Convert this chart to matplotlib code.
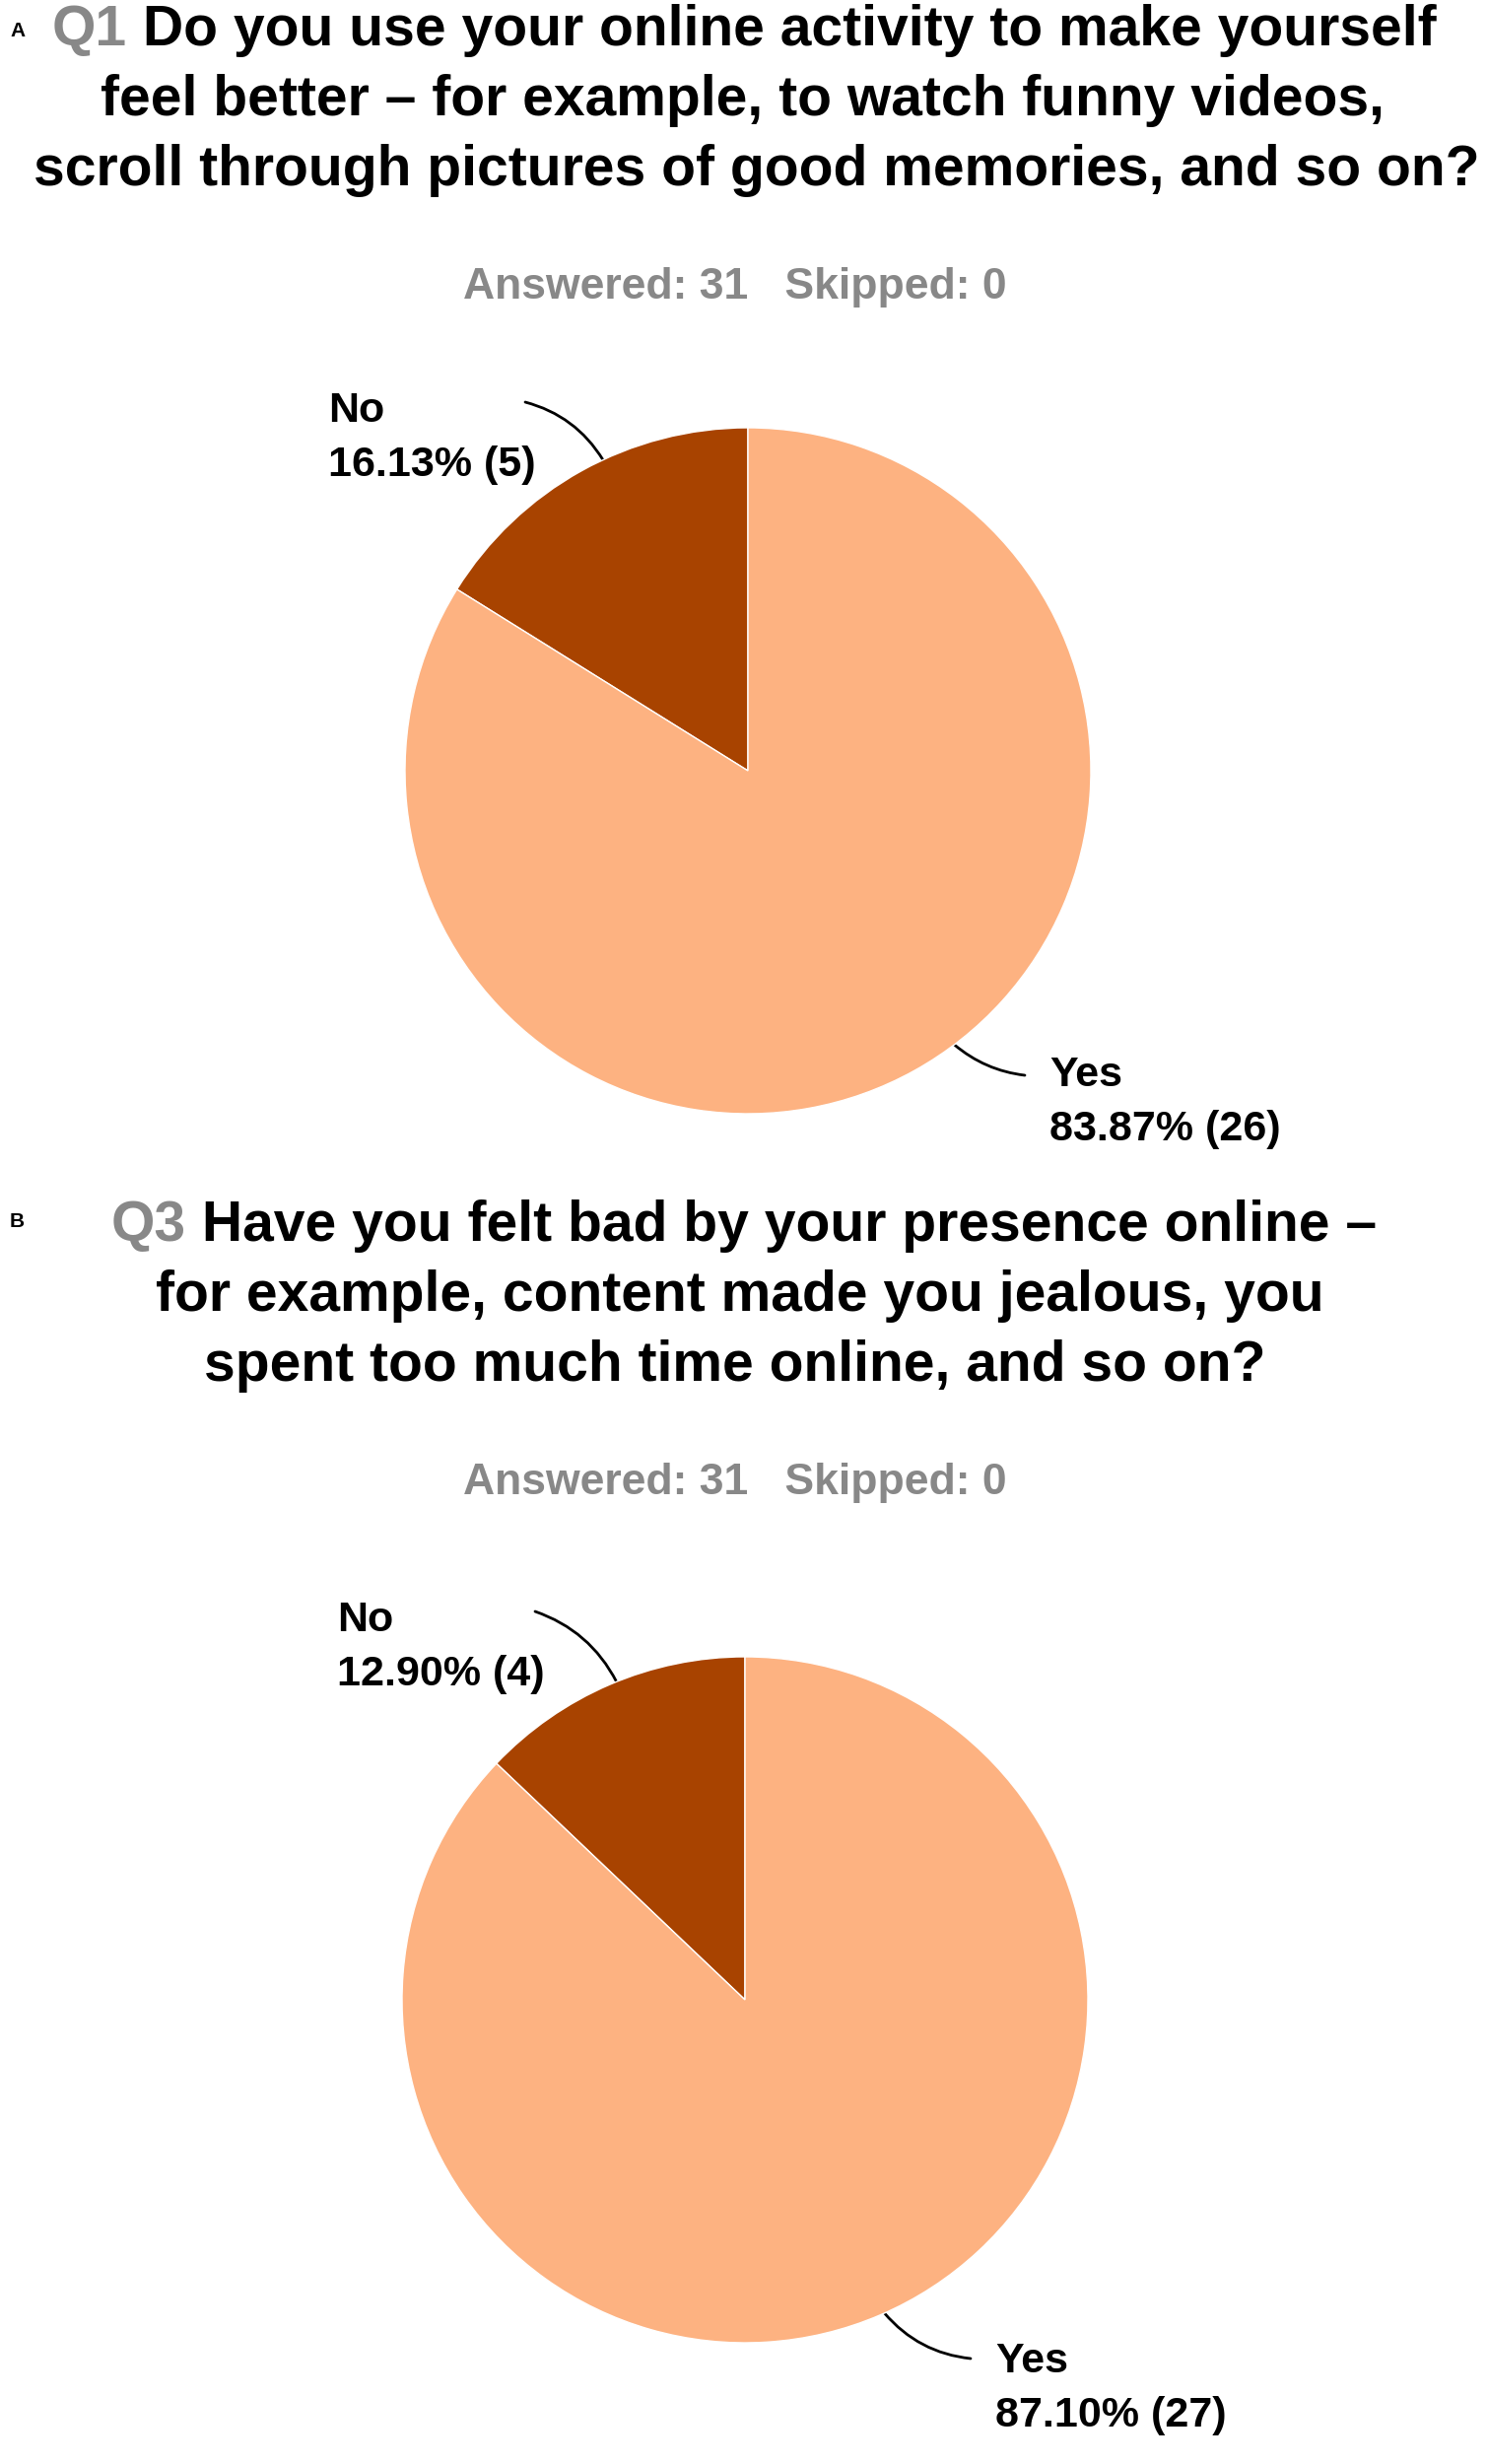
import numpy as np
import matplotlib
matplotlib.use('Agg')
import matplotlib.pyplot as plt

W, H = 1509, 2500

# survey data
answers = ['No', 'Yes']
q1_counts = [5, 26]
q1_pcts = [16.13, 83.87]
q3_counts = [4, 27]
q3_pcts = [12.90, 87.10]
answered = 31
skipped = 0

q1_id = 'Q1'
q1_lines = ['Do you use your online activity to make yourself',
            'feel better \u2013 for example, to watch funny videos,',
            'scroll through pictures of good memories, and so on?']
q3_id = 'Q3'
q3_lines = ['Have you felt bad by your presence online \u2013',
            'for example, content made you jealous, you',
            'spent too much time online, and so on?']

colors = ['#A84300', '#FDB281']
gray = '#888888'

plt.rcParams['font.family'] = ['Liberation Sans', 'DejaVu Sans']
plt.rcParams['font.weight'] = 'bold'

TITLE_FS = 41
SUB_FS = 32
LAB_FS = 31
R = 348

fig = plt.figure(figsize=(W / 100, H / 100), dpi=100)
bg = fig.add_axes([0, 0, 1, 1])
bg.axis('off')
bg.set_xlim(0, W)
bg.set_ylim(H, 0)


def panel(letter, letter_y, qid, lines, y0, centers, center, counts, pcts,
          lab_pos, lead_from, lead_ang, rads):
    # panel letter
    bg.text(10, letter_y, letter, fontsize=15, fontweight='bold', va='baseline')
    # title, first line has grey question id
    full = bg.text(centers[0], y0, qid + ' ' + lines[0], fontsize=TITLE_FS,
                   ha='center', va='baseline', alpha=0)
    bg.annotate(qid, xy=(0, y0), xycoords=(full, 'data'), fontsize=TITLE_FS,
                ha='left', va='baseline', color=gray)
    bg.annotate(lines[0], xy=(1, y0), xycoords=(full, 'data'), fontsize=TITLE_FS,
                ha='right', va='baseline', color='black')
    for i, ln in enumerate(lines[1:]):
        bg.text(centers[i + 1], y0 + 71 * (i + 1), ln, fontsize=TITLE_FS,
                ha='center', va='baseline', color='black')
    bg.text(746, y0 + 257, 'Answered: %d   Skipped: %d' % (answered, skipped),
            fontsize=SUB_FS, ha='center', va='baseline', color=gray)

    cx, cy = center
    ax = fig.add_axes([(cx - R) / W, 1 - (cy + R) / H, 2 * R / W, 2 * R / H])
    ax.pie(counts, colors=colors, startangle=90, counterclock=True,
           wedgeprops=dict(edgecolor='white', linewidth=1))
    ax.set_xlim(-1, 1)
    ax.set_ylim(-1, 1)

    for k in range(len(answers)):
        lx, ly = lab_pos[k]
        bg.text(lx, ly, answers[k], fontsize=LAB_FS, va='baseline')
        bg.text(lx, ly + 55, '%.2f%% (%d)' % (pcts[k], counts[k]),
                fontsize=LAB_FS, va='baseline')
        a = np.deg2rad(lead_ang[k])
        ex, ey = cx + R * np.cos(a), cy - R * np.sin(a)
        bg.annotate('', xy=(ex, ey), xytext=lead_from[k],
                    arrowprops=dict(arrowstyle='-', color='black', lw=2,
                                    shrinkA=0, shrinkB=0,
                                    connectionstyle='arc3,rad=%.2f' % rads[k]))


panel('A', 37, q1_id, q1_lines, 46, [755, 753, 768], (759, 782),
      q1_counts, q1_pcts,
      [(333, 428), (1065, 1102)],
      [(533, 408), (1040, 1091)],
      [115, -53], [-0.2, -0.15])

panel('B', 1245, q3_id, q3_lines, 1259, [755, 751, 746], (756, 2029),
      q3_counts, q3_pcts,
      [(342, 1655), (1010, 2407)],
      [(543, 1635), (985, 2393)],
      [112, -66], [-0.2, -0.2])

fig.savefig('out.png', dpi=100, facecolor='white')
